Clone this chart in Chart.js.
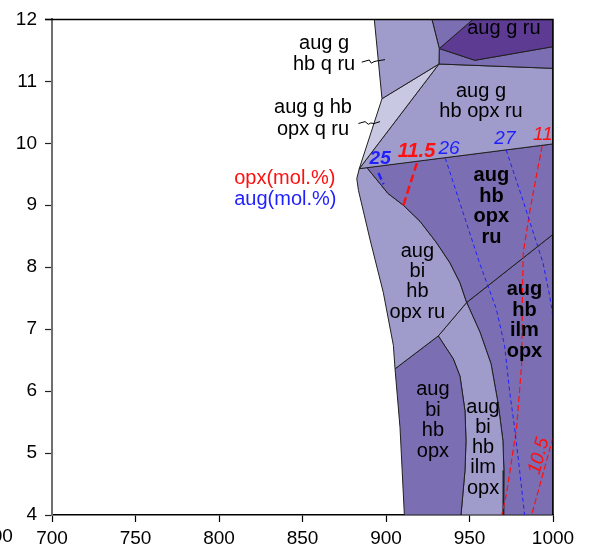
<!DOCTYPE html>
<html>
<head>
<meta charset="utf-8">
<script src="https://cdn.jsdelivr.net/npm/chart.js@4.4.1/dist/chart.umd.min.js"></script>
<style>
  html, body { margin: 0; padding: 0; background: #fff; }
  canvas { display: block; }
</style>
</head>
<body>
<canvas id="pseudosection" width="589" height="548"></canvas>
<script>
// axis ticks: T (°C), P (kbar)
const tempTicks = [700, 750, 800, 850, 900, 950, 1000];
const pressTicks = [4, 5, 6, 7, 8, 9, 10, 11, 12];

// field boundaries as [T, P]
const tip = [884, 9.59];
const j1 = [948.3, 7.43];
const j2 = [931.3, 6.89];
const j3 = [905.4, 6.36];
const westTop = [[893, 12], [897.6, 10.72]];
const westUpper = [tip, [882.5, 9.43], [883.5, 9.24], [890.5, 8.44], [898.4, 7.59], [904.4, 6.74], j3];
const westLower = [j3, [908.4, 5.41], [911.0, 4.0]];
const curveAUpper = [[888.5, 9.61], [901.2, 9.19], [910.4, 9.0], [920.4, 8.74], [930.4, 8.39], [938.3, 8.07], [944.3, 7.75], j1];
const curveALower = [j1, [956.3, 6.95], [962.9, 6.44], [967.2, 5.79], [970.0, 5.2], [970.6, 4.72], [970.2, 4.0]];
const curveB = [j2, [940.3, 6.52], [944.3, 6.24], [947.3, 5.68], [947.9, 5.2], [947.3, 4.72], [944.9, 4.0]];

// isopleths: aug (mol.%) and opx (mol.%)
const augLevels = [25, 26, 27];
const augIso = [
  [[895.5, 9.52], [898.5, 9.34]],
  [[935.5, 9.76], [956, 8.07], [966, 7.33], [971, 6.74], [974, 6.0], [977, 5.41], [980, 4.72], [983, 4.0]],
  [[972, 9.89], [982, 9.08], [994, 8.07], [998, 7.54], [1000, 7.2]]
];
const opxLevels = [11.5, 11, 10.5];
const opxIso = [
  [[918.5, 9.68], [910.4, 9.0]],
  [[993.5, 9.96], [986.2, 8.92], [982.2, 8.23], [981.8, 7.75], [981.2, 6.42], [978.2, 5.41], [972.2, 4.35], [969.3, 4.0]],
  [[1000, 5.25], [987.2, 4.0]]
];

const LIGHTEST = '#c9c8e3';
const LIGHT = '#9f9bcb';
const DARK = '#7b6eb2';
const DARKEST = '#5d3b92';
const FONT = "'Liberation Sans', Arial, sans-serif";

const rev = a => a.slice().reverse();
const xy = list => list.map(([t, p]) => ({ x: t, y: p }));

function field(points, color) {
  return {
    data: xy(points.concat([points[0]])),
    backgroundColor: color,
    borderColor: '#202020',
    borderWidth: 1,
    fill: 'shape',
    pointRadius: 0,
    order: 3
  };
}

function isopleth(points, color, width, dash) {
  return {
    data: xy(points),
    borderColor: color,
    borderWidth: width,
    borderDash: dash,
    fill: false,
    pointRadius: 0,
    order: 1
  };
}

const fields = [
  field([westTop[0], [927.5, 12], [931.9, 11.53], [931.7, 11.28], westTop[1]], LIGHT),          // aug g hb q ru
  field([westTop[1], [931.7, 11.28], tip], LIGHTEST),                                         // aug g hb opx q ru
  field([[927.5, 12], [952.1, 12], [931.9, 11.53]], DARK),
  field([[952.1, 12], [1000, 12], [1000, 11.56], [953.2, 11.34], [931.9, 11.53]], DARKEST),   // aug g ru
  field([[931.9, 11.53], [953.2, 11.34], [1000, 11.56], [1000, 11.21], [931.7, 11.28]], DARK),
  field([[931.7, 11.28], [1000, 11.21], [1000, 9.99], tip], LIGHT),                          // aug g hb opx ru
  field([...curveAUpper, [1000, 8.53], [1000, 9.99]], DARK),                                  // aug hb opx ru
  field([tip, ...curveAUpper, j2, ...rev(westUpper)], LIGHT),                                 // aug bi hb opx ru
  field([j3, ...curveB, ...rev(westLower)], DARK),                                            // aug bi hb opx
  field([j2, ...curveALower, ...rev(curveB)], LIGHT),                                         // aug bi hb ilm opx
  field([j1, [1000, 8.53], [1000, 4], ...rev(curveALower)], DARK)                             // aug hb ilm opx
];

const lines = [
  isopleth(augIso[0], '#1f1fff', 2.5, [7, 4]),
  isopleth(augIso[1], '#1f1fff', 1, [4, 3]),
  isopleth(augIso[2], '#1f1fff', 1, [4, 3]),
  isopleth(opxIso[0], '#ff1010', 2.5, [8, 4]),
  isopleth(opxIso[1], '#ff1010', 1.2, [6, 3]),
  isopleth(opxIso[2], '#ff1010', 1.2, [6, 3])
];

// field names: first-line anchor [T, P], line spacing in px
const fieldLabels = [
  { text: 'aug g\nhb q ru', at: [862.9, 11.61], gap: 21 },
  { text: 'aug g hb\nopx q ru', at: [856.3, 10.58], gap: 22 },
  { text: 'aug g ru', at: [970.6, 11.85], gap: 20 },
  { text: 'aug g\nhb opx ru', at: [956.9, 10.83], gap: 20 },
  { text: 'aug\nhb\nopx\nru', at: [963.1, 9.48], gap: 20.5, bold: true },
  { text: 'aug\nbi\nhb\nopx ru', at: [918.8, 8.26], gap: 20.4 },
  { text: 'aug\nhb\nilm\nopx', at: [982.9, 7.64], gap: 20.7, bold: true },
  { text: 'aug\nbi\nhb\nopx', at: [928.1, 6.02], gap: 20.4 },
  { text: 'aug\nbi\nhb\nilm\nopx', at: [958.1, 5.74], gap: 20.2 }
];

// isopleth value tags
const augTags = [
  { at: [896.5, 9.75], bold: true, size: 19 },
  { at: [937.7, 9.91], size: 19 },
  { at: [971.2, 10.07], size: 19 }
];
const opxTags = [
  { at: [918.3, 9.86], bold: true, size: 20 },
  { at: [994.0, 10.14], size: 19 },
  { at: [991.6, 4.95], size: 19, angle: -75 }
];

// wavy leaders from the two outside names
const leaders = [
  [[885.5, 11.31], [890.0, 11.345], [891.2, 11.293], [892.8, 11.318], [894.5, 11.329], [899.4, 11.35]],
  [[883.5, 10.32], [887.5, 10.35], [889.4, 10.307], [890.9, 10.328], [892.8, 10.319], [896.4, 10.35]]
];

const annotate = {
  id: 'annotate',
  afterDatasetsDraw(chart) {
    const { ctx, scales: { x, y } } = chart;
    ctx.save();

    ctx.strokeStyle = '#000';
    ctx.lineWidth = 1;
    leaders.forEach(path => {
      ctx.beginPath();
      path.forEach(([t, p], i) => {
        const px = x.getPixelForValue(t), py = y.getPixelForValue(p);
        i ? ctx.lineTo(px, py) : ctx.moveTo(px, py);
      });
      ctx.stroke();
    });

    ctx.textAlign = 'center';
    ctx.textBaseline = 'middle';
    ctx.fillStyle = '#000';
    fieldLabels.forEach(l => {
      ctx.font = (l.bold ? 'bold ' : '') + '20px ' + FONT;
      const px = x.getPixelForValue(l.at[0]);
      const py = y.getPixelForValue(l.at[1]);
      l.text.split('\n').forEach((s, i) => ctx.fillText(s, px, py + i * l.gap));
    });

    const tag = (value, t, color) => {
      ctx.save();
      ctx.fillStyle = color;
      ctx.font = 'italic ' + (t.bold ? 'bold ' : '') + t.size + 'px ' + FONT;
      ctx.translate(x.getPixelForValue(t.at[0]), y.getPixelForValue(t.at[1]));
      if (t.angle) ctx.rotate(t.angle * Math.PI / 180);
      ctx.fillText(String(value), 0, 0);
      ctx.restore();
    };
    augLevels.forEach((v, i) => tag(v, augTags[i], '#1f1fff'));
    opxLevels.forEach((v, i) => tag(v, opxTags[i], '#ff1010'));

    ctx.textAlign = 'left';
    ctx.font = '20px ' + FONT;
    ctx.fillStyle = '#ff1010';
    ctx.fillText('opx(mol.%)', x.getPixelForValue(809.1), y.getPixelForValue(9.43));
    ctx.fillStyle = '#1f1fff';
    ctx.fillText('aug(mol.%)', x.getPixelForValue(809.1), y.getPixelForValue(9.09));
    ctx.restore();
  },
  afterDraw(chart) {
    const { ctx, chartArea: a, scales: { x } } = chart;
    ctx.save();
    ctx.strokeStyle = '#000';
    ctx.lineWidth = 1.5;
    ctx.beginPath();
    ctx.moveTo(a.left - 7, a.top);
    ctx.lineTo(a.right, a.top);
    ctx.lineTo(a.right, a.bottom);
    ctx.stroke();
    // clipped neighbour label at the left edge
    ctx.fillStyle = '#000';
    ctx.font = '19px ' + FONT;
    ctx.textAlign = 'center';
    ctx.textBaseline = 'middle';
    ctx.fillText('600', x.getPixelForValue(700) - 55, a.bottom + 21.5);
    ctx.restore();
  }
};

new Chart(document.getElementById('pseudosection'), {
  type: 'line',
  data: { datasets: [...lines, ...fields] },
  options: {
    responsive: false,
    animation: false,
    layout: { padding: { top: 14, right: 36, left: 0, bottom: 0 } },
    plugins: { legend: { display: false }, tooltip: { enabled: false } },
    scales: {
      x: {
        type: 'linear',
        min: 700, max: 1000,
        afterFit: s => { s.height = 33; },
        afterBuildTicks: s => { s.ticks = tempTicks.map(v => ({ value: v })); },
        ticks: { color: '#000', padding: 5, font: { family: FONT, size: 19 }, callback: v => String(v) },
        grid: { drawOnChartArea: false, tickLength: 7, color: '#000', tickWidth: 1.2 },
        border: { color: '#000', width: 1.5 }
      },
      y: {
        type: 'linear',
        min: 4, max: 12,
        afterFit: s => { s.width = 52; },
        afterBuildTicks: s => { s.ticks = pressTicks.map(v => ({ value: v })); },
        ticks: { color: '#000', padding: 8, font: { family: FONT, size: 19 }, callback: v => String(v) },
        grid: { drawOnChartArea: false, tickLength: 7, color: '#222', tickWidth: 1.2 },
        border: { color: '#6f6f6f', width: 2 }
      }
    }
  },
  plugins: [annotate]
});
</script>
</body>
</html>
